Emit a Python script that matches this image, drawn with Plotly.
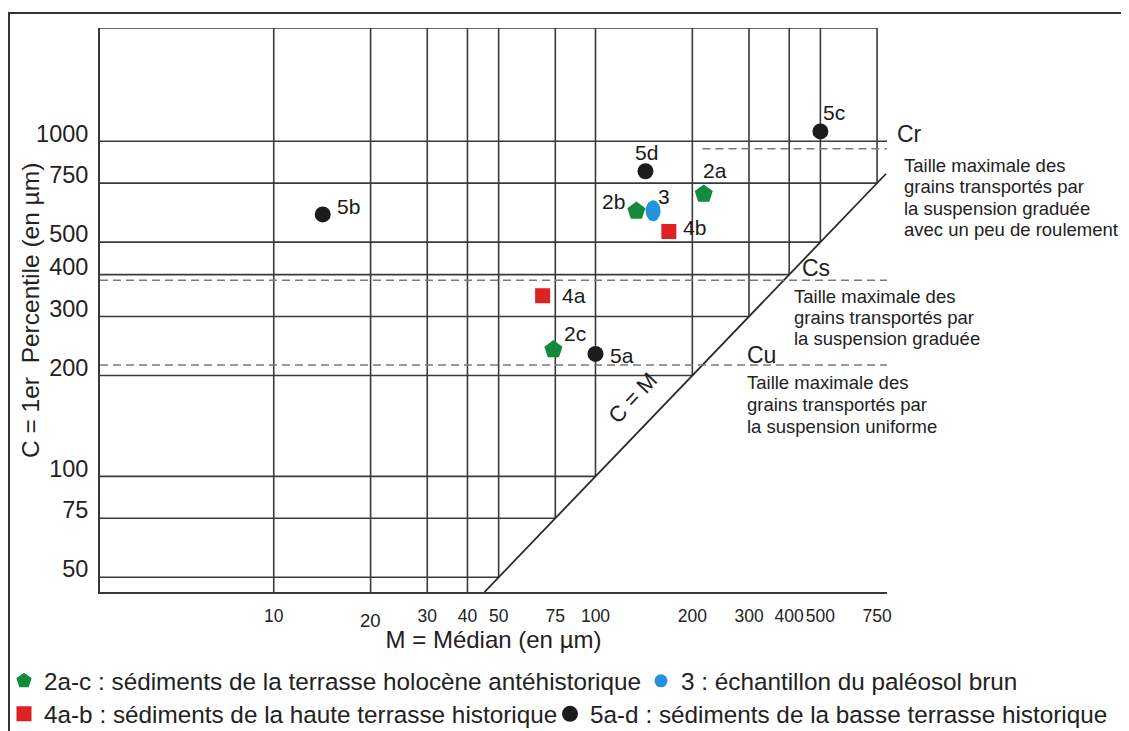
import numpy as np
import plotly.graph_objects as go

# ---------------- data (M = médian, C = 1er percentile, µm) ----------------
green_labels = ["2a", "2b", "2c"]
green_M = [217, 134, 74]
green_C = [696, 619, 239]

blue_labels = ["3"]
blue_M = [151]
blue_C = [620]

red_labels = ["4a", "4b"]
red_M = [68.5, 169]
red_C = [346, 538]

black_labels = ["5a", "5b", "5c", "5d"]
black_M = [100, 14.2, 500, 143]
black_C = [232, 605, 1070, 814]

x_ticks = [10, 20, 30, 40, 50, 75, 100, 200, 300, 400, 500, 750]
y_ticks = [50, 75, 100, 200, 300, 400, 500, 750, 1000]

limit_names = ["Cr", "Cs", "Cu"]
limit_C = [950, 385, 215]
limit_M_start = [215, None, None]

legend_names = [
    "2a-c : sédiments de la terrasse holocène antéhistorique",
    "3 : échantillon du paléosol brun",
    "4a-b : sédiments de la haute terrasse historique",
    "5a-d : sédiments de la basse terrasse historique",
]

block_texts = [
    ["Taille maximale des", "grains transportés par", "la suspension graduée", "avec un peu de roulement"],
    ["Taille maximale des", "grains transportés par", "la suspension graduée"],
    ["Taille maximale des", "grains transportés par", "la suspension uniforme"],
]

# label offsets in pixels (dx, dy up-positive)
label_offsets = {
    "2a": (11, 24), "2b": (-23, 10), "2c": (22, 16), "3": (11, 14),
    "4a": (31, 0), "4b": (26, 4),
    "5a": (27, -2), "5b": (26, 8), "5c": (14, 19), "5d": (1, 19),
}

# ---------------- layout geometry (page pixels) ----------------
OFF = 8                      # default body margin of the html page
W, H = 1129, 731
L, T, PW, PH = 100, 28, 787, 564
x_range = [0.46, 2.906]
y_range = [1.655, 3.338]
xmin_v, xmax_v = 10 ** x_range[0], 10 ** x_range[1]
ymin_v, ymax_v = 10 ** y_range[0], 10 ** y_range[1]
grid_last_M = 750
diag_end = 800
px_per_dec_x = PW / (x_range[1] - x_range[0])
px_per_dec_y = PH / (y_range[1] - y_range[0])

def pxx(xp):
    return (xp - L) / PW

def pxy(yp):
    return (T + PH - yp) / PH

FONT = "Liberation Sans, Arial, sans-serif"
GRID = "#3a3a3a"
TXT = "#222222"
BLUE = "#2393dd"

fig = go.Figure()

# grid (clipped by the C = M line)
gx, gy = [], []
for v in x_ticks:
    gx += [v, v, None]
    gy += [max(v, ymin_v), ymax_v, None]
for h in y_ticks:
    gx += [xmin_v, min(h, xmax_v), None]
    gy += [h, h, None]
gx += [xmin_v, grid_last_M, None]
gy += [ymax_v, ymax_v, None]
fig.add_trace(go.Scatter(x=gx, y=gy, mode="lines", line=dict(color=GRID, width=1.6),
                         showlegend=False, hoverinfo="skip"))
# C = M line
fig.add_trace(go.Scatter(x=[ymin_v, diag_end], y=[ymin_v, diag_end], mode="lines",
                         line=dict(color="#2a2a2a", width=1.8), showlegend=False, hoverinfo="skip"))

# dashed limits (shapes so they may run past the frame)
dash_end = [935, 860, 870]
for name, c, ms, me in zip(limit_names, limit_C, limit_M_start, dash_end):
    fig.add_shape(type="line", xref="x", yref="y", x0=ms if ms else xmin_v, x1=me, y0=c, y1=c,
                  line=dict(color="#7a7a7a", width=1.5, dash="8px,5px"), layer="above")

# data series (one legend box per entry)
fig.add_trace(go.Scatter(x=green_M, y=green_C, mode="markers", name=legend_names[0],
                         marker=dict(symbol="pentagon", size=19, color="#138a3c"),
                         legend="legend", hoverinfo="skip"))
fig.add_trace(go.Scatter(x=blue_M, y=blue_C, mode="markers", name=legend_names[1],
                         marker=dict(symbol="circle", size=13, color=BLUE),
                         legend="legend2", hoverinfo="skip"))
fig.add_trace(go.Scatter(x=red_M, y=red_C, mode="markers", name=legend_names[2],
                         marker=dict(symbol="square", size=15, color="#dd2222"),
                         legend="legend3", hoverinfo="skip"))
fig.add_trace(go.Scatter(x=black_M, y=black_C, mode="markers", name=legend_names[3],
                         marker=dict(symbol="circle", size=16, color="#1c1c1c"),
                         legend="legend4", hoverinfo="skip"))

# blue ellipse (taller than wide) drawn around the sample point
t = np.linspace(0, 2 * np.pi, 41)
for m, c in zip(blue_M, blue_C):
    ex = m * 10 ** (7.5 / px_per_dec_x * np.cos(t))
    ey = c * 10 ** (10.5 / px_per_dec_y * np.sin(t))
    fig.add_trace(go.Scatter(x=ex, y=ey, mode="lines", fill="toself", fillcolor=BLUE,
                             line=dict(width=0, color=BLUE), showlegend=False, hoverinfo="skip"))

# point labels
for labs, ms, cs in [(green_labels, green_M, green_C), (blue_labels, blue_M, blue_C),
                     (red_labels, red_M, red_C), (black_labels, black_M, black_C)]:
    for lab, m, c in zip(labs, ms, cs):
        dx, dy = label_offsets[lab]
        fig.add_annotation(x=np.log10(m), y=np.log10(c), xref="x", yref="y", text=lab,
                           showarrow=False, xshift=dx, yshift=dy,
                           xanchor="center", yanchor="middle",
                           font=dict(size=21, color="#1a1a1a", family=FONT))

# limit names
for name, (xl, yl) in zip(limit_names, [(895, 134), (800, 268), (745, 355)]):
    fig.add_annotation(x=pxx(xl), y=pxy(yl), xref="paper", yref="paper", text=name,
                       showarrow=False, xanchor="left", yanchor="middle",
                       font=dict(size=23, color=TXT, family=FONT))

# explanation blocks, one line at a time
for lines, (xl, y_first) in zip(block_texts, [(902, 165), (792, 296), (745, 383)]):
    for i, line in enumerate(lines):
        fig.add_annotation(x=pxx(xl), y=pxy(y_first + 21.5 * i), xref="paper", yref="paper",
                           text=line, showarrow=False, xanchor="left", yanchor="middle",
                           font=dict(size=18.5, color=TXT, family=FONT))

fig.add_annotation(x=pxx(632), y=pxy(398), xref="paper", yref="paper", text="C = M",
                   showarrow=False, textangle=-47, xanchor="center", yanchor="middle",
                   font=dict(size=22, color=TXT, family=FONT))

# y axis title
fig.add_annotation(x=pxx(30), y=pxy(311), xref="paper", yref="paper",
                   text="C = 1er  Percentile (en µm)", showarrow=False, textangle=-90,
                   xanchor="center", yanchor="middle",
                   font=dict(size=24.5, color=TXT, family=FONT))

# lowered "20" tick label (as in the source figure)
fig.add_annotation(x=np.log10(20), y=0, xref="x", yref="paper", text="20",
                   showarrow=False, xanchor="center", yanchor="top", yshift=-16,
                   font=dict(size=18.5, color=TXT, family=FONT))

# outer frame
fig.add_shape(type="rect", xref="paper", yref="paper",
              x0=pxx(9), x1=pxx(1145), y0=pxy(13), y1=pxy(750),
              line=dict(color="#333333", width=2))

fig.update_xaxes(type="log", range=x_range, showgrid=False, zeroline=False,
                 showline=True, linecolor=GRID, linewidth=1.8,
                 tickvals=x_ticks, ticktext=[("" if v == 20 else str(v)) for v in x_ticks],
                 ticks="", ticklabelstandoff=7, tickangle=0,
                 tickfont=dict(size=17.5, color=TXT, family=FONT),
                 title=dict(text="M = Médian (en µm)", standoff=6,
                            font=dict(size=24, color=TXT, family=FONT)))
fig.update_yaxes(type="log", range=y_range, showgrid=False, zeroline=False,
                 showline=True, linecolor=GRID, linewidth=1.8,
                 tickvals=y_ticks, ticktext=[str(v) for v in y_ticks],
                 ticks="", ticklabelstandoff=5, ticklabelshift=-8,
                 tickfont=dict(size=23.5, color=TXT, family=FONT))

def legend_box(marker_x, row_y):
    return dict(orientation="h", x=pxx(marker_x - 20), xanchor="left", y=pxy(row_y),
                yanchor="middle", font=dict(size=24.3, color=TXT, family=FONT),
                bgcolor="rgba(0,0,0,0)", itemclick=False, itemdoubleclick=False)

fig.update_layout(
    width=W - OFF, height=H - OFF, autosize=False,
    margin=dict(l=L - OFF, r=W - L - PW, t=T - OFF, b=H - T - PH, autoexpand=False),
    paper_bgcolor="white", plot_bgcolor="white",
    font=dict(family=FONT, color=TXT),
    legend=legend_box(24, 681),
    legend2=legend_box(661, 681),
    legend3=legend_box(24, 714),
    legend4=legend_box(570, 714),
    hovermode=False,
)

fig.write_html("out.html")
